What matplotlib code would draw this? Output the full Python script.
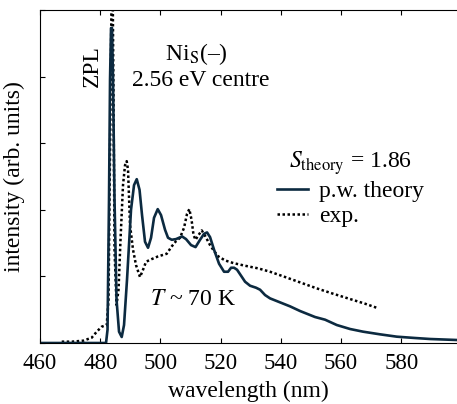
import numpy as np
import matplotlib
matplotlib.use('Agg')
import matplotlib.pyplot as plt

plt.rcParams['font.family'] = ['Liberation Serif', 'DejaVu Serif']
plt.rcParams['mathtext.fontset'] = 'stix'
plt.rcParams.update({'font.size': 17})

# p.w. theory (solid)
wl_theory = [460, 479.93, 481.93, 482.43, 482.92, 483.26, 483.59, 483.92, 484.25, 484.75,
             485.42, 486.25, 487.14, 487.91, 488.90, 490.23, 491.23, 492.13, 493.06, 493.89,
             494.88, 495.88, 496.88, 497.87, 499.10, 500.20, 501.53, 502.52, 503.75, 505.18,
             507.18, 508.50, 510.17, 511.66, 513.16, 514.49, 515.48, 516.48, 517.81, 519.47,
             521.13, 522.46, 523.46, 524.45, 525.45, 526.78, 528.11, 529.77, 531.76, 533.09,
             534.75, 536.41, 539.73, 543.06, 546.38, 551.36, 554.68, 558.57, 562.99, 567.31,
             572.96, 578.50, 584.58, 589.57, 598.5]
int_theory = [0, 0, 0, 0.20, 2.15, 3.95, 4.73, 4.73, 3.95, 2.15,
              0.65, 0.17, 0.09, 0.27, 0.95, 2.00, 2.37, 2.46, 2.30, 1.92,
              1.52, 1.43, 1.58, 1.88, 2.01, 1.92, 1.70, 1.58, 1.55, 1.56,
              1.60, 1.56, 1.47, 1.44, 1.55, 1.64, 1.66, 1.59, 1.40, 1.19,
              1.07, 1.07, 1.13, 1.13, 1.10, 1.01, 0.92, 0.86, 0.83, 0.80,
              0.72, 0.67, 0.61, 0.55, 0.48, 0.39, 0.35, 0.27, 0.21, 0.17,
              0.13, 0.095, 0.075, 0.06, 0.045]

# experiment (dotted)
wl_exp = [467.21, 470.63, 474.39, 477.18, 478.84, 480.50, 482.16, 482.76, 483.26, 483.75,
          484.09, 484.42, 484.75, 485.42, 486.08, 486.74, 487.57, 488.24, 488.80, 489.24,
          489.90, 490.90, 491.89, 493.22, 494.22, 495.22, 497.11, 499.20, 502.09, 503.75,
          505.18, 506.51, 507.84, 508.84, 509.60, 510.33, 511.00, 511.66, 512.49, 513.72,
          514.82, 516.48, 517.81, 519.24, 521.46, 524.22, 528.11, 532.52, 536.41, 540.83,
          546.38, 551.93, 557.34, 562.99, 567.97, 572.39]
int_exp = [0.02, 0.02, 0.035, 0.08, 0.17, 0.245, 0.27, 0.65, 2.90, 5.15,
           5.6, 3.65, 1.40, 0.57, 0.80, 1.55, 2.37, 2.67, 2.73, 2.60,
           1.77, 1.40, 1.17, 0.99, 1.10, 1.22, 1.26, 1.30, 1.34, 1.45,
           1.53, 1.58, 1.73, 1.94, 2.01, 1.85, 1.62, 1.55, 1.61, 1.69,
           1.61, 1.47, 1.38, 1.30, 1.24, 1.20, 1.16, 1.12, 1.07, 1.00,
           0.91, 0.82, 0.74, 0.66, 0.59, 0.52]

xticks = [460, 480, 500, 520, 540, 560, 580]

fig = plt.figure(figsize=(4.57, 4.04), dpi=100)
ax = fig.add_axes([40/457, 61/404, 417/457, 333/404])

ax.plot(wl_exp, int_exp, color='black', linestyle=(0, (1, 1)), lw=1.8, label='exp.')
ax.plot(wl_theory, int_theory, color='#0c2a40', lw=1.9, label='p.w. theory')

ax.set_xlim(460, 598.5)
ax.set_ylim(0, 5)
ax.set_xticks(xticks)
ax.set_yticks(np.arange(0, 6, 1))
ax.set_yticklabels([])
ax.tick_params(direction='in', length=3.5, top=True, labelsize=16.5, pad=7)
ax.spines['right'].set_visible(False)

ax.set_xlabel('wavelength (nm)', labelpad=5)
ax.set_ylabel('intensity (arb. units)', labelpad=4)

ax.text(477.3, 4.16, 'ZPL', rotation=90, ha='center', va='center')
ax.text(512, 4.34, r'Ni$_{\rm S}$(–)', ha='center', va='center')
ax.text(513.5, 3.94, '2.56 eV centre', ha='center', va='center')
ax.text(496.5, 0.66, r'$T$ ~ 70 K', ha='left', va='center')

h, l = ax.get_legend_handles_labels()
leg = ax.legend(h[::-1], l[::-1], title=r'$S_{\rm theory}$ = 1.86', frameon=False,
                loc='center', bbox_to_anchor=(0.745, 0.465), handlelength=1.3,
                handletextpad=0.5, labelspacing=0.15, borderpad=0, fontsize=17)
leg.get_title().set_fontsize(17)

fig.savefig('out.png', dpi=100)
